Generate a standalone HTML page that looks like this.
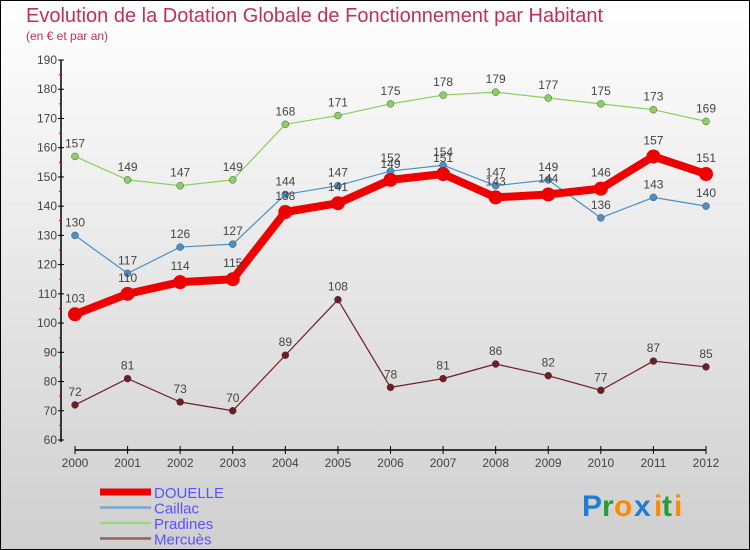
<!DOCTYPE html>
<html><head><meta charset="utf-8"><style>
html,body{margin:0;padding:0}
body{width:750px;height:550px;overflow:hidden;font-family:"Liberation Sans",sans-serif}
</style></head><body>
<svg id="chart" width="750" height="550" xmlns="http://www.w3.org/2000/svg" style="display:block">
<defs><linearGradient id="bg" x1="0" y1="0" x2="0" y2="1"><stop offset="0" stop-color="#ffffff"/><stop offset="1" stop-color="#cfcfcf"/></linearGradient></defs>
<rect x="0.5" y="0.5" width="749" height="549" fill="url(#bg)" stroke="#000" stroke-width="1"/>
<text x="26" y="22" font-size="20" fill="#c0305a">Evolution de la Dotation Globale de Fonctionnement par Habitant</text>
<text x="26" y="40" font-size="12" fill="#c0305a">(en € et par an)</text>
<g id="axes"></g>
<g id="series"></g>
<g id="legend"></g>
<g font-size="30" font-weight="bold" font-family="Liberation Sans, sans-serif">
<text x="582" y="516" fill="#1f7fd0">P</text><text x="602" y="516" fill="#2a9a3a">r</text><text x="614" y="516" fill="#ff8a00">o</text><text x="634" y="516" fill="#1f7fd0">x</text><text x="654" y="516" fill="#ff8a00">i</text><text x="662" y="516" fill="#2a9a3a">t</text><text x="674" y="516" fill="#ff8a00">i</text>
</g>
</svg>
<script>
const years=[2000,2001,2002,2003,2004,2005,2006,2007,2008,2009,2010,2011,2012];
const douelle=[103,110,114,115,138,141,149,151,143,144,146,157,151];
const caillac=[130,117,126,127,144,147,152,154,147,149,136,143,140];
const pradines=[157,149,147,149,168,171,175,178,179,177,175,173,169];
const mercues=[72,81,73,70,89,108,78,81,86,82,77,87,85];
const yTicks=[60,70,80,90,100,110,120,130,140,150,160,170,180,190];
const NS="http://www.w3.org/2000/svg";
function xs(i){return 75+i*(706-75)/(years.length-1);}
function ys(v){return 440-(v-60)*380/130;}
function mk(tag,attrs,parent){const e=document.createElementNS(NS,tag);for(const k in attrs)e.setAttribute(k,attrs[k]);parent.appendChild(e);return e;}
const axes=document.getElementById('axes');
const ya=mk('line',{x1:61,y1:ys(190),x2:61,y2:ys(60)+2,stroke:'#000','stroke-width':1.5},axes);


yTicks.forEach(v=>{
  mk('line',{x1:58,y1:ys(v),x2:64,y2:ys(v),stroke:'#000'},axes);
  if(v<190) mk('line',{x1:59,y1:ys(v+5),x2:62,y2:ys(v+5),stroke:'#e00'},axes);
  const t=mk('text',{x:57,y:ys(v)+4,'text-anchor':'end','font-size':12,fill:'#444'},axes);
  t.textContent=v;
  
  
});
const xa=mk('line',{x1:xs(0),y1:450,x2:xs(12),y2:450,stroke:'#000','stroke-width':1.5},axes);


years.forEach((y,i)=>{
  mk('line',{x1:xs(i),y1:446,x2:xs(i),y2:454,stroke:'#000'},axes);
  const t=mk('text',{x:xs(i),y:467,'text-anchor':'middle','font-size':12,fill:'#444'},axes);
  t.textContent=y;
  
  
});
const ser=document.getElementById('series');
const defs=[
 {name:'mercues',data:mercues,color:'#6e1e24',w:1.2,r:3.5,fs:12},
 {name:'pradines',data:pradines,color:'#88d060',w:1.2,r:3.5,fs:12},
 {name:'caillac',data:caillac,color:'#4a90c8',w:1.2,r:3.5,fs:12},
 {name:'douelle',data:douelle,color:'#ee0000',w:8,r:7,fs:12}
];
defs.forEach(s=>{
  const g=mk('g',{},ser);
  
  
  const pts=s.data.map((v,i)=>xs(i)+','+ys(v)).join(' ');
  mk('polyline',{points:pts,fill:'none',stroke:s.color,'stroke-width':s.w,'stroke-linejoin':'round'},g);
  s.data.forEach((v,i)=>{
    const c=mk('circle',{cx:xs(i),cy:ys(v),r:s.r,fill:s.color,stroke:s.name==='douelle'?'none':'#333','stroke-width':0.4},g);
    
    
    const t=mk('text',{x:xs(i),y:ys(v)-(s.name==='douelle'?12:9),'text-anchor':'middle','font-size':s.fs,fill:'#444'},g);
    t.textContent=v;
    
    
  });
});
const leg=document.getElementById('legend');
const li=[['DOUELLE','#ee0000',7],['Caillac','#7aa8d0',2.5],['Pradines','#98d880',2.5],['Mercuès','#906060',2.5]];
li.forEach((l,i)=>{
  const y=492+i*15.5;
  const g=mk('g',{},leg);
  
  
  mk('line',{x1:100,y1:y,x2:151,y2:y,stroke:l[1],'stroke-width':l[2]},g);
  const t=mk('text',{x:154,y:y+6,'font-size':15,fill:'#5555ff'},g);
  t.textContent=l[0];
});
</script>
</body></html>
